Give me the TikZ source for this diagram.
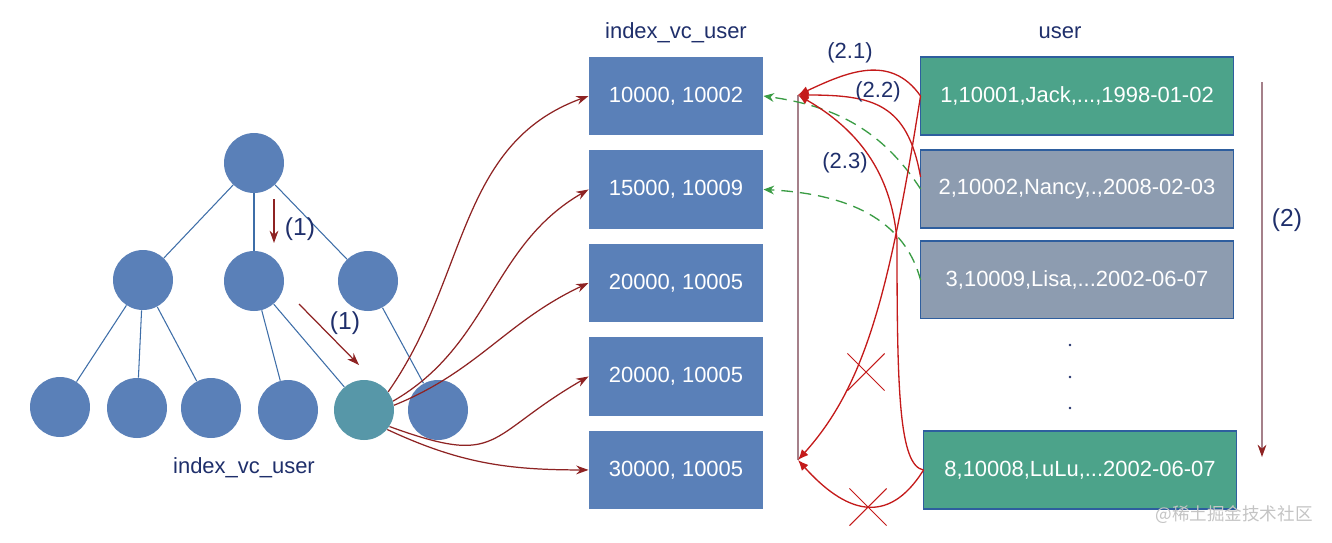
\documentclass[tikz,border=0pt]{standalone}
\usepackage{fontspec}
\setmainfont{Liberation Sans}
\newfontfamily\cjkfont{Noto Sans CJK SC}
\usepackage{tikz}
\usetikzlibrary{arrows.meta}
\usetikzlibrary{calc}
\usetikzlibrary{positioning}
\usetikzlibrary{shapes.misc}
\definecolor{treeblue}{HTML}{5A80B8}
\definecolor{hitteal}{HTML}{5797A8}
\definecolor{edgeblue}{HTML}{3E6EA8}
\definecolor{rowgreen}{HTML}{4CA38A}
\definecolor{rowgray}{HTML}{8D9CB0}
\definecolor{rowline}{HTML}{2E5E9E}
\definecolor{darkred}{HTML}{8E2323}
\definecolor{backred}{HTML}{C41A1A}
\definecolor{covgreen}{HTML}{3A9C44}
\definecolor{labelblue}{HTML}{1F2F6B}
\definecolor{scanmauve}{HTML}{A5808A}
\definecolor{markgray}{HTML}{C4C4C4}
\tikzset{>=Stealth}
\tikzset{
  tr_node/.style = {circle, fill=treeblue, minimum size=1.2cm, inner sep=0pt},
  tr_hit/.style = {tr_node, fill=hitteal},
  tr_edge/.style = {draw=edgeblue, line width=0.6pt},
  walk_arr/.style = {->, >={Stealth[length=7pt,width=5pt]}, draw=darkred, line width=0.7pt},
  ix_box/.style = {rectangle, fill=treeblue, minimum width=3.5cm, minimum height=1.57cm,
    outer sep=0pt, text=white, font=\fontsize{12.5}{15}\selectfont},
  row_box/.style = {rectangle, draw=rowline, line width=0.6pt, minimum width=6.26cm,
    minimum height=1.56cm, outer sep=0pt, text=white, font=\fontsize{12.5}{15}\selectfont},
  row_hit/.style = {row_box, fill=rowgreen},
  row_miss/.style = {row_box, fill=rowgray},
  lbl/.style = {text=labelblue, font=\fontsize{12.5}{15}\selectfont},
  lbl_big/.style = {text=labelblue, font=\fontsize{14}{17}\selectfont},
  scan_line/.style = {draw=scanmauve, line width=0.7pt},
  scan_arr/.style = {scan_line, ->, >={Stealth[length=7pt,width=5pt,color=darkred]}},
  back_arr/.style = {->, >={Latex[length=6pt,width=5pt]}, draw=backred, line width=0.75pt},
  cov_arr/.style = {->, >={Stealth[length=6pt,width=5pt]}, draw=covgreen,
    dash pattern=on 6.5pt off 4pt, line width=0.75pt},
  no_go/.style = {cross out, draw=backred, minimum size=0.72cm, inner sep=0pt, line width=0.6pt},
  mark_txt/.style = {text=markgray, font=\cjkfont\fontsize{10}{12}\selectfont}
}

\begin{document}
\begin{tikzpicture}[x=0.02cm, y=0.02cm]

\fill[white] (0,0) rectangle (1332,-542);

\node [tr_node] (root) at (254,-163) {};
\node [tr_node] (l)  at (143,-280) {};
\node [tr_node] (m)  at (254,-281) {};
\node [tr_node] (r)  at (368,-281) {};
\node [tr_node] (l1) at (60,-407) {};
\node [tr_node] (l2) at (137,-408) {};
\node [tr_node] (l3) at (211,-408) {};
\node [tr_node] (m1) at (288,-410) {};
\node [tr_hit]  (m2) at (364,-410) {};
\node [tr_node] (r1) at (438,-410) {};
\foreach \a/\b in {root/l,root/m,root/r,l/l1,l/l2,l/l3,m/m1,m/m2,r/r1}
  \draw [tr_edge] (\a) -- (\b);
\node [lbl] (trhead) at (244,-468) {index\_vc\_user};

\coordinate (d1a) at (274,-199);
\coordinate (d1b) at (274,-243);
\coordinate (d2a) at (299,-304);
\coordinate (d2b) at (359,-365);
\draw [walk_arr] (d1a) -- (d1b);
\draw [walk_arr] (d2a) -- (d2b);
\node [lbl_big] (n1a) at (300,-229) {(1)};
\node [lbl_big] (n1b) at (345,-323) {(1)};

\node [lbl] (ixhead) at (676,-33) {index\_vc\_user};
\node [ix_box] (i1) at (676,-96) {10000, 10002};
\node [ix_box, below=0.3cm of i1] (i2) {15000, 10009};
\node [ix_box, below=0.3cm of i2] (i3) {20000, 10005};
\node [ix_box, below=0.3cm of i3] (i4) {20000, 10005};
\node [ix_box, below=0.3cm of i4] (i5) {30000, 10005};

\draw [walk_arr] (m2.37) to[out=55, in=-160] (i1.west);
\draw [walk_arr] (m2.17) to[out=30, in=-150] (i2.west);
\draw [walk_arr] (m2.9) to[out=22, in=-155] (i3.west);
\draw [walk_arr] (m2.-33) to[out=-20, in=-150, looseness=1.5] (i4.west);
\draw [walk_arr] (m2.-40) to[out=-25, in=180] (i5.west);

\node [lbl] (ushead) at (1060,-33) {user};
\node [row_hit] (u1) at (1077,-96) {1,10001,Jack,...,1998-01-02};
\node [row_miss, below=0.3cm of u1] (u2) {2,10002,Nancy,.,2008-02-03};
\node [row_miss, below=0.26cm of u2] (u3) {3,10009,Lisa,...2002-06-07};
\node [row_hit] (u4) at (1080,-470) {8,10008,LuLu,...2002-06-07};
\foreach \y in {345,377,408}
  \fill [labelblue] (1070,-\y) circle (1.4);

\coordinate (sc_top) at (1262,-82);
\coordinate (sc_end) at (1262,-457);
\draw [scan_arr] (sc_top) -- (sc_end);
\node [lbl_big] (n2) at (1287,-220) {(2)};

\coordinate (tp) at (798,-95);
\coordinate (bt) at (798,-460);
\draw [scan_line] (tp) -- (bt);

\draw [cov_arr] (u2.west) to[out=123, in=-8] (i1.east);
\draw [cov_arr] (u3.west) to[out=105, in=-3] (i2.east);

\coordinate (c23) at (897,-240);
\draw [back_arr] (u1.west) to[out=125, in=25, looseness=1.1] (tp);
\draw [back_arr] ($(u2.west)+(0,12)$) to[out=100, in=0, looseness=1.3] (tp);
\draw [back_arr] (u4.west) to[out=170, in=-90, out distance=0.5cm, in distance=3cm] (c23)
  to[out=95, in=-30] (tp);
\draw [back_arr] (u1.west) to[out=-99, in=48, out distance=4cm, in distance=2cm] (bt);
\draw [back_arr] (u4.west) to[out=-122, in=-48, looseness=1.4] (bt);
\node [no_go] (x1) at (866,-372) {};
\node [no_go] (x2) at (868,-507) {};

\node [lbl] (s21) at (850,-53) {(2.1)};
\node [lbl] (s22) at (878,-92) {(2.2)};
\node [lbl] (s23) at (845,-163) {(2.3)};

\node [mark_txt] (wm) at (1234,-515) {@稀土掘金技术社区};

\end{tikzpicture}
\end{document}
